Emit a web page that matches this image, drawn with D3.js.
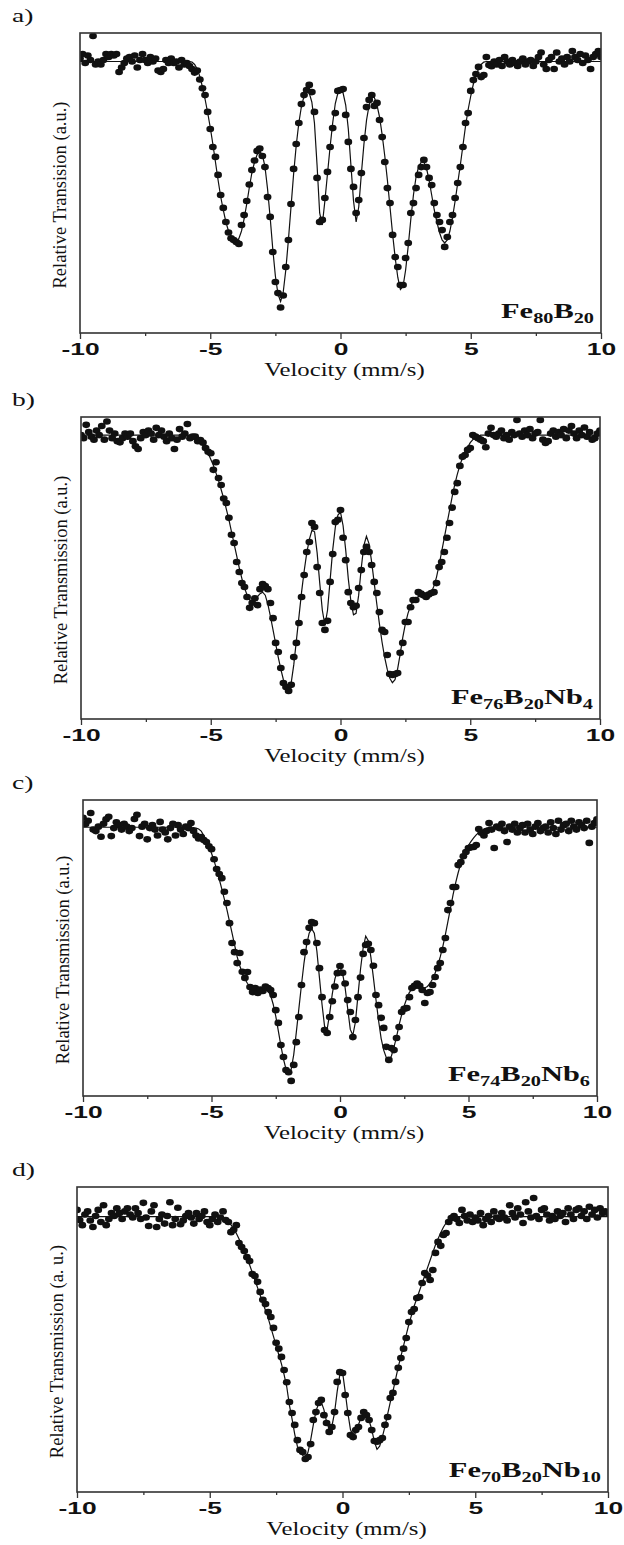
<!DOCTYPE html>
<html lang="en">
<head>
<meta charset="UTF-8">
<title>Mossbauer spectra</title>
<script src="https://cdn.jsdelivr.net/npm/d3@7/dist/d3.min.js"></script>
<style>
    body { margin: 0; background: #fff; }
</style>
</head>
<body>
<svg id="svg"></svg>
<script>

var WIDTH = 624;
var HEIGHT = 1545;

// velocity grid of the spectra (mm/s)
var VELOCITY_START = -10;
var VELOCITY_STEP = 0.1;

var majorTicks = [-10, -5, 0, 5, 10];
var minorTicks = [-7.5, -2.5, 2.5, 7.5];

var panelLetters = ["a)", "b)", "c)", "d)"];
var yLabels = [
    "Relative Transision (a.u.)",
    "Relative Transmission (a.u.)",
    "Relative Transmission (a.u.)",
    "Relative Transmission (a. u.)"
];
var xLabel = "Velocity (mm/s)";

// sample names, [text, subscript?]
var formulas = [
    [["Fe", 0], ["80", 1], ["B", 0], ["20", 1]],
    [["Fe", 0], ["76", 1], ["B", 0], ["20", 1], ["Nb", 0], ["4", 1]],
    [["Fe", 0], ["74", 1], ["B", 0], ["20", 1], ["Nb", 0], ["6", 1]],
    [["Fe", 0], ["70", 1], ["B", 0], ["20", 1], ["Nb", 0], ["10", 1]]
];

// relative transmission, a.u. (0 = frame bottom, 100 = frame top)
var dataA = [
    91.5, 93, 90, 92.5, 91, 99, 89.5, 90.5, 89.5, 91,
    93, 92, 93, 92.5, 93, 87, 88.5, 90, 91.5, 92,
    90.5, 92.5, 88.5, 91, 93, 91, 90, 92, 90.5, 91.5,
    87.5, 87, 88, 91, 90, 91.5, 90, 90.5, 88.5, 91,
    89.5, 90, 89, 88, 86.8, 87.5, 84.5, 81.6, 79.3, 73.7,
    68, 62, 58.7, 52.7, 46, 41.7, 37, 33.5, 31.6, 31,
    30.3, 29.7, 36, 39.3, 44, 49.5, 54.3, 57.5, 60.7, 61.5,
    59, 55.3, 45.3, 38.7, 27, 17, 13.3, 8.5, 12.5, 22,
    31, 43, 54.7, 63, 70, 76.3, 79.3, 81, 82.7, 80.3,
    73.7, 51.7, 37, 37.7, 45, 53.7, 62, 68.3, 73.3, 80.7,
    81, 81.3, 72.7, 63.7, 54.7, 48.7, 40, 44.3, 53.3, 65,
    75.3, 77.7, 79.3, 75.7, 76.7, 71, 65.3, 57, 48.3, 43.3,
    32.7, 25.3, 22, 16, 16, 25, 30, 40, 43.3, 48.3,
    52.7, 55.3, 57.7, 55.3, 51.7, 49.3, 43.3, 39.3, 37, 34.3,
    28.7, 32, 37, 39.3, 45, 50, 55.3, 62, 70, 73.3,
    80.7, 84.3, 86.3, 88.7, 85.3, 86, 92, 89.3, 88.9, 90.5,
    89.5, 91, 89, 92, 90.5, 89.5, 91, 90, 89, 90.5,
    91.5, 89.5, 90.5, 91, 89, 90.5, 92, 93.5, 89.5, 88,
    91, 92, 88, 93.5, 90.5, 91.5, 89.5, 92, 90.5, 94,
    92, 91, 93, 90, 92.5, 91, 88, 92, 93, 94,
    92
];
var fitA = [
    90.5, 90.5, 90.5, 90.5, 90.5, 90.5, 90.5, 90.5, 90.5, 90.5,
    90.5, 90.5, 90.5, 90.5, 90.5, 90.5, 90.5, 90.5, 90.5, 90.5,
    90.5, 90.5, 90.5, 90.5, 90.5, 90.5, 90.5, 90.5, 90.5, 90.5,
    90.5, 90.5, 90.5, 90.5, 90.5, 90.5, 90.5, 90.5, 90.5, 90.5,
    90.5, 90.5, 90.5, 90.3, 89.5, 88, 85.5, 82, 78, 73.5,
    68.5, 63, 57, 51, 45.5, 41, 37, 34, 32, 31,
    30.5, 31.5, 34, 38, 43, 48.5, 53.5, 57, 59.5, 60.5,
    59.5, 55.5, 48, 38.5, 28, 19, 13, 10.5, 13.5, 21,
    31, 42, 53, 62.5, 70, 75.5, 79, 80.5, 80, 77,
    70, 56, 40, 36, 44, 53, 62, 70, 76.5, 80,
    81, 80, 76, 68, 56, 44, 37, 42, 53, 63,
    71, 76, 78.5, 78.5, 76, 72, 66, 59, 51, 42,
    33, 25, 18.5, 14.5, 15.5, 21, 29, 38, 46, 52,
    55.5, 57, 57, 55, 51, 46, 41, 37, 33.5, 31,
    30, 31, 34, 38.5, 44, 50, 56, 62.5, 69, 74.5,
    79, 83, 86, 88, 89.5, 90.3, 90.5, 90.5, 90.5, 90.5,
    90.5, 90.5, 90.5, 90.5, 90.5, 90.5, 90.5, 90.5, 90.5, 90.5,
    90.5, 90.5, 90.5, 90.5, 90.5, 90.5, 90.5, 90.5, 90.5, 90.5,
    90.5, 90.5, 90.5, 90.5, 90.5, 90.5, 90.5, 90.5, 90.5, 90.5,
    90.5, 90.5, 90.5, 90.5, 90.5, 90.5, 90.5, 90.5, 90.5, 90.5,
    90.5
];

var dataB = [
    94, 93, 97.4, 95, 93.5, 92.5, 95.5, 94, 97, 92.5,
    98.5, 95.5, 93, 94.5, 92, 91.6, 93, 94.5, 93.5, 94.5,
    92, 90.3, 89.4, 93, 95, 94, 95.5, 94.5, 92.5, 96.4,
    94, 95.5, 93.5, 92, 94.5, 93, 89.4, 92.5, 96, 93.5,
    94.5, 97.7, 93, 93.5, 93.5, 92, 92.4, 91.5, 89.7, 88.5,
    88, 82.5, 85, 79.8, 77.5, 73, 71.5, 66.6, 61, 58.3,
    52, 48.7, 45, 43.7, 40.4, 36.8, 38.5, 40, 37.7, 43,
    44.7, 44, 43, 38.4, 33.4, 25.2, 22.2, 16.9, 11.9, 10.6,
    9.3, 11.3, 20.5, 25.2, 31.8, 40.4, 47.7, 55.3, 58.6, 64.9,
    63.6, 50.3, 41.7, 31.8, 29.5, 32.5, 45.4, 54.6, 65.2, 66,
    69.2, 60, 52.6, 42, 38.4, 37, 37.5, 43.4, 49.3, 55.3,
    57, 55.3, 51, 45.4, 41.7, 35.4, 29.5, 28.8, 21.2, 14.9,
    14.6, 14.9, 15.2, 21.9, 25.2, 32.1, 32.1, 37, 39.4, 39.4,
    42, 41.5, 41, 40.4, 41.2, 41.7, 42, 45, 50.3, 52,
    55.3, 60, 64.9, 70, 75.2, 78.1, 83.8, 86.8, 87.4, 89.1,
    89.7, 94, 93.5, 93, 92.5, 92, 90, 94.5, 96.4, 94,
    93.5, 94.5, 95.5, 93, 94, 92.5, 95, 94, 99, 94.5,
    93.5, 95.5, 94, 96, 93, 94.5, 95, 99, 92.5, 91.4,
    92, 94.5, 95.5, 93.5, 95, 94, 96, 93, 95.5, 97,
    94.5, 93, 95.5, 94, 96.5, 93.5, 95, 92.5, 93, 94.5,
    95.5
];
var fitB = [
    94, 94, 94, 94, 94, 94, 94, 94, 94, 94,
    94, 94, 94, 94, 94, 94, 94, 94, 94, 94,
    94, 94, 94, 94, 94, 94, 94, 94, 94, 94,
    94, 94, 94, 94, 94, 94, 94, 94, 94, 94,
    94, 94, 94, 94, 93.5, 93, 92, 90.8, 89.5, 88,
    86, 84, 81.5, 79, 76, 73, 69.5, 66, 62, 58,
    54, 50, 46.5, 43.5, 41, 39.5, 39, 39.5, 40.5, 41.5,
    42, 41, 38, 34, 29.5, 25, 20.5, 16.5, 13, 10.5,
    9.5, 12, 18, 26, 34, 42, 49, 55, 59.5, 62.5,
    62, 55, 45, 36, 31, 36, 46, 56, 63.5, 67.5,
    68.5, 64, 56, 46.5, 39, 34.5, 35, 41, 50, 57.5,
    60.5, 58, 52, 45, 38, 31.5, 25.5, 20.5, 16.5, 13.5,
    12, 13, 16.5, 21.5, 27, 31.5, 35, 37.5, 39, 40,
    40.5, 40.5, 40.5, 40.5, 41, 42, 44, 47, 51, 55.5,
    60, 64.5, 69, 73.5, 77.5, 81, 84, 86.5, 88.5, 90,
    91.5, 92.5, 93.2, 93.6, 94, 94, 94, 94, 94, 94,
    94, 94, 94, 94, 94, 94, 94, 94, 94, 94,
    94, 94, 94, 94, 94, 94, 94, 94, 94, 94,
    94, 94, 94, 94, 94, 94, 94, 94, 94, 94,
    94, 94, 94, 94, 94, 94, 94, 94, 94, 94,
    94
];

var dataC = [
    94, 91.9, 93, 95.6, 90, 89.5, 91, 87.6, 92, 93.5,
    94.3, 87.8, 90.5, 92.5, 91.5, 90, 92, 91, 89.5, 90.5,
    93.6, 95, 87.8, 91, 92, 86.7, 90.5, 91.5, 90, 88,
    92.6, 90, 89, 86.7, 90.5, 92, 88, 91.5, 90, 88.5,
    91, 90.5, 92.2, 89.5, 88, 87, 87.5, 86.5, 85.8, 84.4,
    83.4, 80, 76.7, 75, 73.6, 69, 65.2, 58.4, 51.7, 48.6,
    44.9, 48.3, 42, 39.9, 41.9, 36.8, 35.1, 36.5, 34.8, 36,
    35.5, 37, 36.5, 35.8, 34.1, 29, 24.7, 17.2, 13.2, 8.8,
    8, 5.1, 10.5, 18.2, 26.7, 37.5, 48.6, 52, 56.8, 58.8,
    58.4, 51.7, 43.2, 33.4, 22.3, 21.3, 26.7, 32, 37, 41.5,
    43.9, 41.6, 38, 32.4, 28.4, 19.9, 25.7, 33.4, 40, 48,
    51, 51.4, 49.3, 44, 34.1, 30.7, 26.4, 23, 16.6, 12.2,
    16.2, 15.5, 19.6, 23.3, 28.4, 29.5, 29.7, 33.4, 36.5, 37.2,
    38, 37.2, 35.8, 31.4, 34.8, 35.1, 37.5, 40.2, 43.2, 44.9,
    49.3, 53.4, 62.8, 65.2, 70.6, 70.6, 78, 79, 81, 82.4,
    83.8, 84, 84.1, 84.8, 90.2, 88.9, 88, 89.5, 92.2, 90,
    83.8, 91, 90.5, 92, 89.5, 85.8, 91, 90, 92, 89,
    90.5, 91.5, 89, 92, 90, 88.5, 91, 92.2, 89.5, 90.5,
    91, 89, 92.5, 90.5, 88.5, 93, 90, 91.5, 92, 89.5,
    93, 91, 90, 92.5, 91.5, 90.5, 93, 85.5, 91, 92.2,
    93.5
];
var fitC = [
    90.8, 90.8, 90.8, 90.8, 90.8, 90.8, 90.8, 90.8, 90.8, 90.8,
    90.8, 90.8, 90.8, 90.8, 90.8, 90.8, 90.8, 90.8, 90.8, 90.8,
    90.8, 90.8, 90.8, 90.8, 90.8, 90.8, 90.8, 90.8, 90.8, 90.8,
    90.8, 90.8, 90.8, 90.8, 90.8, 90.8, 90.8, 90.8, 90.8, 90.8,
    90.8, 90.8, 90.8, 90.7, 90.5, 90.2, 89.5, 88, 86.3, 84.3,
    82, 79.5, 76.5, 73.3, 70, 66.5, 63, 59, 55, 51,
    47, 44, 41.5, 39.5, 38, 37, 36.2, 35.8, 35.6, 35.6,
    35.8, 35.8, 35.5, 34, 31, 27, 22, 17, 12.5, 9,
    7.5, 9, 14, 21.5, 29.5, 37.5, 45, 51, 55, 56.5,
    55, 49, 40, 31, 23.5, 22.5, 28, 34.5, 39.5, 42.5,
    43.5, 41.5, 36.5, 29.5, 22.5, 20.5, 25, 34, 43, 50,
    54, 52.5, 47, 40, 32.5, 25.5, 19.5, 15.5, 13, 12,
    13.5, 16.5, 20, 24, 27.5, 30.5, 33, 35, 36, 36.5,
    36.5, 36.5, 36.5, 36.5, 37, 38, 39.5, 41.5, 44, 47,
    50.5, 54.5, 59, 63.5, 68, 72, 75.5, 78.5, 81, 83,
    84.7, 86, 87.2, 88.2, 89, 89.6, 90.1, 90.5, 90.8, 90.8,
    90.8, 90.8, 90.8, 90.8, 90.8, 90.8, 90.8, 90.8, 90.8, 90.8,
    90.8, 90.8, 90.8, 90.8, 90.8, 90.8, 90.8, 90.8, 90.8, 90.8,
    90.8, 90.8, 90.8, 90.8, 90.8, 90.8, 90.8, 90.8, 90.8, 90.8,
    90.8, 90.8, 90.8, 90.8, 90.8, 90.8, 90.8, 90.8, 90.8, 90.8,
    90.8
];

var dataD = [
    92.5, 89.2, 87.5, 91, 92, 89, 86.9, 90.5, 92.5, 88.5,
    94, 87.5, 89.5, 91.5, 90.5, 93, 91.5, 89.5, 92, 93,
    91, 90, 93, 91.5, 89.5, 94.8, 90, 87.2, 92, 94,
    86.9, 89.5, 91, 88, 90.5, 95, 87.5, 89.5, 93.2, 87.8,
    89, 90.5, 91.5, 90, 88, 91.5, 89.5, 90.5, 92, 88.5,
    87.5, 89.5, 91, 88.5, 90, 92, 89.2, 88.5, 85.2, 86,
    87.5, 81.6, 80.3, 79, 77, 75.7, 71.5, 70.8, 68.9, 65.6,
    63, 61.6, 59, 57.4, 53.8, 48.9, 47, 44.3, 40, 36,
    29.5, 25.9, 22, 17, 13.8, 13.1, 10.8, 11.5, 15.7, 23.6,
    26.2, 29.2, 30.2, 25.2, 22.6, 19.7, 21.3, 26.2, 36.1, 39.3,
    39, 31.8, 25.9, 18.7, 18, 20.3, 21.3, 24.3, 26.2, 25.2,
    23.6, 20.3, 16.7, 16.5, 17, 17.7, 22, 24.6, 30.8, 32.5,
    36.1, 40.7, 43.9, 47, 50.5, 55.7, 59, 60, 63.6, 63.9,
    68.5, 71.8, 71, 69.5, 72.8, 78.4, 82, 80.7, 84.3, 84.9,
    88.5, 89.8, 90.5, 89.5, 88.2, 92.5, 90.5, 89, 91, 88.5,
    90, 89, 91.5, 87.5, 89.5, 90.5, 88.5, 92, 90, 89.5,
    91.5, 90, 89, 94, 91.5, 90, 93, 91, 88.2, 95,
    92, 90, 96.4, 90.5, 89.5, 92.5, 93, 91, 89, 90.5,
    89.5, 92, 90.5, 91.5, 88.5, 93, 91, 89.5, 92.5, 93,
    90.5, 92, 89.5, 93.5, 91, 92.5, 90, 93, 91.5, 92,
    91.5
];
var fitD = [
    90.3, 90.3, 90.3, 90.3, 90.3, 90.3, 90.3, 90.3, 90.3, 90.3,
    90.3, 90.3, 90.3, 90.3, 90.3, 90.3, 90.3, 90.3, 90.3, 90.3,
    90.3, 90.3, 90.3, 90.3, 90.3, 90.3, 90.3, 90.3, 90.3, 90.3,
    90.3, 90.3, 90.3, 90.3, 90.3, 90.3, 90.3, 90.3, 90.3, 90.3,
    90.3, 90.3, 90.3, 90.3, 90.3, 90.3, 90.3, 90.3, 90.3, 90.3,
    90.3, 90.3, 90.3, 90.3, 90.3, 90, 89.5, 88.7, 87.6, 86.3,
    84.8, 83, 81, 79, 76.8, 74.5, 72, 69.5, 67, 64.5,
    62, 59.5, 57, 54, 51, 48, 45, 42, 38.5, 34.5,
    28.5, 24, 19, 15, 13, 12, 11.5, 13, 17, 22,
    26.5, 29, 29.5, 27, 23, 20.5, 21.5, 26, 33, 38.5,
    39.5, 33, 26, 20.5, 18.5, 19.5, 22, 24.5, 26, 25.5,
    23.5, 20.5, 16.5, 14, 15, 18, 21.5, 25.5, 29.5, 33,
    37, 41, 44.5, 48, 51.5, 55, 58, 61, 63.5, 66,
    68.5, 71, 73.5, 76, 78.5, 81, 83, 85, 86.8, 88.2,
    89.2, 89.8, 90.2, 90.3, 90.3, 90.3, 90.3, 90.3, 90.3, 90.3,
    90.3, 90.3, 90.3, 90.3, 90.3, 90.3, 90.3, 90.3, 90.3, 90.3,
    90.3, 90.3, 90.3, 90.3, 90.3, 90.3, 90.3, 90.3, 90.3, 90.3,
    90.3, 90.3, 90.3, 90.3, 90.3, 90.3, 90.3, 90.3, 90.3, 90.3,
    90.3, 90.3, 90.3, 90.3, 90.3, 90.3, 90.3, 90.3, 90.3, 90.3,
    90.3, 90.3, 90.3, 90.3, 90.3, 90.3, 90.3, 90.3, 90.3, 90.3,
    90.3
];

// frame of each panel on the page
var panels = [
    {data: dataA, fit: fitA, left: 80, right: 601, top: 33, bottom: 333},
    {data: dataB, fit: fitB, left: 81, right: 600, top: 417, bottom: 719},
    {data: dataC, fit: fitC, left: 83, right: 597, top: 800, bottom: 1096},
    {data: dataD, fit: fitD, left: 77, right: 608, top: 1187, bottom: 1492}
];

var SERIF = "'Liberation Serif', 'Times New Roman', serif";
var SANS = "'Liberation Sans', Arial, sans-serif";
var INK = "#111";

var svg = d3.select("#svg")
    .attr("width", WIDTH)
    .attr("height", HEIGHT)
    .style("display", "block");

svg.append("rect")
    .attr("width", WIDTH)
    .attr("height", HEIGHT)
    .attr("fill", "#fff");

var velocity = function(i){
    return VELOCITY_START + i * VELOCITY_STEP;
};

panels.forEach(function(p, k){

    var xScale = d3.scaleLinear()
                    .domain([-10, 10])
                    .range([p.left, p.right]);

    var yScale = d3.scaleLinear()
                    .domain([0, 100])
                    .range([p.bottom, p.top]);

    var g = svg.append("g").attr("class", "panel");

    g.append("clipPath")
        .attr("id", "clip" + k)
        .append("rect")
        .attr("x", p.left)
        .attr("y", p.top)
        .attr("width", p.right - p.left)
        .attr("height", p.bottom - p.top);

    var plot = g.append("g").attr("clip-path", "url(#clip" + k + ")");

    // fitted curve
    var line = d3.line()
        .x(function(d, i){ return xScale(velocity(i)); })
        .y(function(d){ return yScale(d); });

    plot.append("path")
        .datum(p.fit)
        .attr("d", line)
        .attr("fill", "none")
        .attr("stroke", INK)
        .attr("stroke-width", 1.2);

    // measured points
    plot.selectAll("ellipse")
        .data(p.data)
        .enter()
        .append("ellipse")
        .attr("cx", function(d, i){ return xScale(velocity(i)); })
        .attr("cy", function(d){ return yScale(d); })
        .attr("rx", 3.9)
        .attr("ry", 3.3)
        .attr("fill", INK);

    // frame
    g.append("rect")
        .attr("x", p.left)
        .attr("y", p.top)
        .attr("width", p.right - p.left)
        .attr("height", p.bottom - p.top)
        .attr("fill", "none")
        .attr("stroke", "#333")
        .attr("stroke-width", 1.6);

    // bottom axis
    var xAxis = d3.axisBottom(xScale)
        .tickValues(majorTicks)
        .tickSize(6)
        .tickSizeOuter(0)
        .tickFormat(d3.format("d"));

    var minorAxis = d3.axisBottom(xScale)
        .tickValues(minorTicks)
        .tickSize(3)
        .tickSizeOuter(0)
        .tickFormat("");

    var ax = g.append("g")
        .attr("class", "x axis")
        .attr("transform", "translate(0," + p.bottom + ")")
        .call(xAxis);

    g.append("g")
        .attr("class", "x minor")
        .attr("transform", "translate(0," + p.bottom + ")")
        .call(minorAxis)
        .select(".domain").remove();

    ax.select(".domain").remove();
    g.selectAll(".tick line")
        .attr("stroke", "#333")
        .attr("stroke-width", 1.3);

    ax.selectAll(".tick text")
        .text(function(d){ return d < 0 ? "-" + Math.abs(d) : d; })
        .attr("y", 22)
        .attr("dy", null)
        .attr("transform", "scale(1.6,1)")
        .attr("fill", INK)
        .attr("font-family", SANS)
        .attr("font-weight", "bold")
        .attr("font-size", "16.5px");

    // x label
    g.append("text")
        .text(xLabel)
        .attr("transform", "translate(" + ((p.left + p.right) / 2 + 4) + "," + (p.bottom + 43) + ") scale(1.34,1)")
        .attr("text-anchor", "middle")
        .attr("fill", INK)
        .attr("font-family", SERIF)
        .attr("font-size", "18.5px");

    // y label
    g.append("text")
        .text(yLabels[k])
        .attr("transform", "translate(" + (p.left - 14) + "," + ((p.top + p.bottom) / 2 + 12) + ") rotate(-90)")
        .attr("text-anchor", "middle")
        .attr("fill", INK)
        .attr("font-family", SERIF)
        .attr("font-size", "18.5px");

    // panel letter
    g.append("text")
        .text(panelLetters[k])
        .attr("transform", "translate(12," + (p.top - 11) + ") scale(1.45,1)")
        .attr("fill", INK)
        .attr("font-family", SERIF)
        .attr("font-size", "19px");

    // sample name
    var name = g.append("text")
        .attr("transform", "translate(" + (p.right - 7) + "," + (p.bottom - 15) + ") scale(1.45,1)")
        .attr("text-anchor", "end")
        .attr("fill", INK)
        .attr("font-family", SERIF)
        .attr("font-weight", "bold");

    var shifted = 0;
    formulas[k].forEach(function(part){
        var dy = part[1] ? 5 - shifted : -shifted;
        shifted = part[1] ? 5 : 0;
        name.append("tspan")
            .text(part[0])
            .attr("dy", dy)
            .attr("font-size", part[1] ? "14px" : "21px");
    });
});

</script>
</body>
</html>
